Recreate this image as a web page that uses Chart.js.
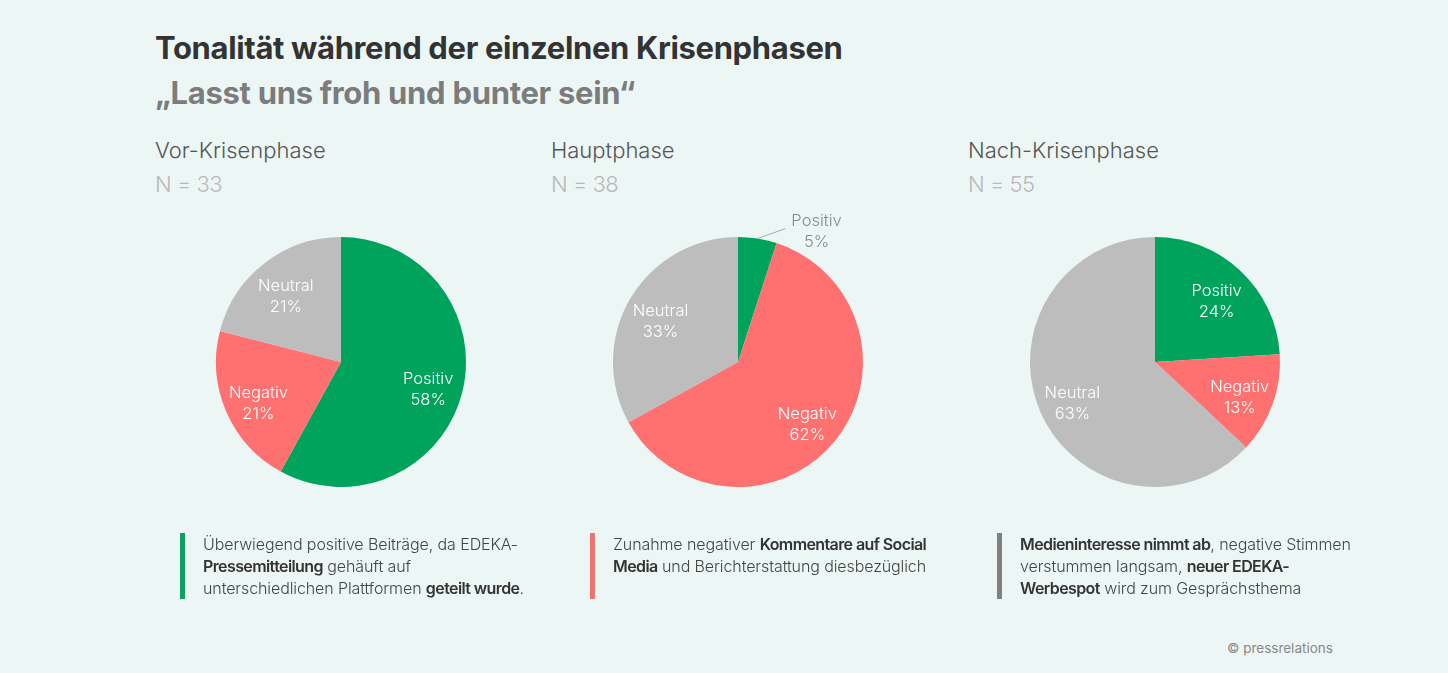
<!DOCTYPE html>
<html>
<head>
<meta charset="utf-8">
<script src="https://cdn.jsdelivr.net/npm/chart.js@4"></script>
<style>
  html, body { margin: 0; padding: 0; }
  body {
    width: 1448px; height: 673px; overflow: hidden; position: relative;
    background: #ecf7f5; font-family: "Inter", "Noto Sans", sans-serif; color: #333;
  }
  .title { position: absolute; left: 155px; top: 29px; font-size: 31px; font-weight: 700; color: #333; letter-spacing: -0.35px; }
  .subtitle { position: absolute; left: 155px; top: 74px; font-size: 31px; font-weight: 700; color: #7c7c7c; letter-spacing: -0.3px; }
  .phase { position: absolute; top: 137px; font-size: 22px; font-weight: 300; color: #555; }
  .n { position: absolute; top: 171px; font-size: 22px; font-weight: 300; color: #b9b9b9; letter-spacing: -0.5px; }
  .box { position: absolute; }
  .note { position: absolute; top: 533px; font-size: 16px; line-height: 22px; font-weight: 300; color: #444; padding-left: 18px; border-left: 5px solid #999; min-height: 66px; letter-spacing: -0.1px; }
  .note b { font-weight: 600; color: #333; letter-spacing: -0.6px; }
  .foot { position: absolute; left: 1227px; top: 640px; font-size: 13.5px; color: #888; }
</style>
</head>
<body>
<div class="title">Tonalität während der einzelnen Krisenphasen</div>
<div class="subtitle">„Lasst uns froh und bunter sein“</div>

<div class="phase" style="left:155px">Vor-Krisenphase</div>
<div class="n" style="left:155px">N = 33</div>
<div class="phase" style="left:551px">Hauptphase</div>
<div class="n" style="left:551px">N = 38</div>
<div class="phase" style="left:968px">Nach-Krisenphase</div>
<div class="n" style="left:968px">N = 55</div>

<div class="box" style="left:161px;top:182px;width:360px;height:360px"><canvas id="pie1"></canvas></div>
<div class="box" style="left:558px;top:182px;width:360px;height:360px"><canvas id="pie2"></canvas></div>
<div class="box" style="left:975px;top:182px;width:360px;height:360px"><canvas id="pie3"></canvas></div>

<div class="note" style="left:180px;width:360px;border-color:#0e9f62">Überwiegend positive Beiträge, da EDEKA-<br><b>Pressemitteilung</b> gehäuft auf<br>unterschiedlichen Plattformen <b>geteilt wurde</b>.</div>
<div class="note" style="left:590px;width:360px;border-color:#f07373">Zunahme negativer <b>Kommentare auf Social<br>Media</b> und Berichterstattung diesbezüglich</div>
<div class="note" style="left:997px;width:360px;border-color:#808080"><b>Medieninteresse nimmt ab</b>, negative Stimmen<br>verstummen langsam, <b>neuer EDEKA-<br>Werbespot</b> wird zum Gesprächsthema</div>

<div class="foot">© pressrelations</div>

<script>
var categories = ["Positiv", "Negativ", "Neutral"];
var vorKrise = [58, 21, 21];
var hauptphase = [5, 62, 33];
var nachKrise = [24, 13, 63];
var sliceColors = ["#00a35c", "#ff7070", "#bdbdbd"];

var sliceLabels = {
  id: "sliceLabels",
  afterDatasetsDraw: function (chart) {
    var ctx = chart.ctx;
    var meta = chart.getDatasetMeta(0);
    var values = chart.data.datasets[0].data;
    ctx.save();
    ctx.font = "300 16.5px Inter, 'Noto Sans', sans-serif";
    ctx.textAlign = "center";
    ctx.textBaseline = "middle";
    meta.data.forEach(function (arc, i) {
      var mid = (arc.startAngle + arc.endAngle) / 2;
      var r = arc.outerRadius;
      var x, y;
      if (values[i] < 10) {
        // small slice: label outside with leader line
        var ex = arc.x + Math.cos(mid) * r, ey = arc.y + Math.sin(mid) * r;
        var lx = ex + 28, ly = ey - 10;
        ctx.strokeStyle = "#aaa";
        ctx.lineWidth = 1;
        ctx.beginPath();
        ctx.moveTo(ex, ey);
        ctx.lineTo(lx, ly);
        ctx.stroke();
        x = lx + 31; y = ly + 3;
        ctx.fillStyle = "#888";
      } else {
        x = arc.x + Math.cos(mid) * r * 0.72;
        y = arc.y + Math.sin(mid) * r * 0.72 + 5;
        ctx.fillStyle = "#ffffff";
      }
      ctx.fillText(categories[i], x, y - 10);
      ctx.fillText(values[i] + "%", x, y + 11);
    });
    ctx.restore();
  }
};

function makePie(id, values) {
  new Chart(document.getElementById(id), {
    type: "pie",
    data: {
      labels: categories,
      datasets: [{ data: values, backgroundColor: sliceColors, borderWidth: 0 }]
    },
    options: {
      responsive: true,
      maintainAspectRatio: false,
      animation: false,
      layout: { padding: 55 },
      plugins: { legend: { display: false }, tooltip: { enabled: false } }
    },
    plugins: [sliceLabels]
  });
}

makePie("pie1", vorKrise);
makePie("pie2", hauptphase);
makePie("pie3", nachKrise);
</script>
</body>
</html>
